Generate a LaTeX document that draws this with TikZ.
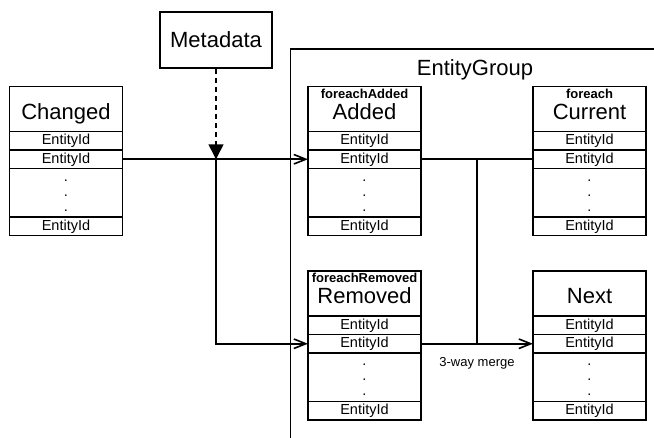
\documentclass[tikz,border=0pt]{standalone}
\usepackage{fontspec}
\setmainfont{Liberation Sans}
\usetikzlibrary{arrows.meta,positioning}
\newcommand{\bigfont}{\fontsize{22}{26}\selectfont}
\newcommand{\idfont}{\fontsize{14.5}{15}\selectfont}
% one entity table: name, position, subtitle, title
\newcommand{\idtable}[4]{%
  \node[hbox] (#1) at (#2) {#4};
  \node[sub] (#1s) at ([yshift=-11.5pt]#1.north) {#3};
  \node[rbox,below=0pt of #1]  (#1a) {EntityId};
  \node[rbox,below=0pt of #1a] (#1b) {EntityId};
  \node[dbox,below=0pt of #1b] (#1c) {.\\.\\.};
  \node[rbox,below=0pt of #1c] (#1d) {EntityId};
}

\begin{document}
\begin{tikzpicture}[x=1pt,y=-1pt,
  tbl/.style={draw,line width=1.6pt,minimum width=113pt,inner sep=0pt,outer sep=0pt},
  hbox/.style={tbl,anchor=north,text height=32.5pt,text depth=12.5pt,font=\bigfont},
  rbox/.style={tbl,minimum height=18.5pt,font=\idfont},
  dbox/.style={tbl,minimum height=48.5pt,align=center,text height=37pt,text depth=0pt,font=\idfont},
  sub/.style={anchor=base,inner sep=0pt,font=\fontsize{13}{15}\selectfont\bfseries},
  mbox/.style={draw,line width=1.6pt,minimum width=112pt,minimum height=56pt,inner sep=0pt,font=\bigfont},
  con/.style={line width=1.6pt},
  feed/.style={-{Straight Barb[length=12pt,width=9.5pt]}},
  lbl/.style={inner sep=0pt,font=\fontsize{13}{15}\selectfont}]
  \path[use as bounding box,fill=white] (0,0) rectangle (654,437);
  % group frame
  \draw[line width=1.1pt] (290.5,445) |- (660,49);
  \node[anchor=base,font=\bigfont] (grp) at (475,75) {EntityGroup};
  \node[mbox] (meta) at (216,40) {Metadata};
  \idtable{chg}{66,86.5}{}{Changed}
  \idtable{add}{364.5,86.5}{foreachAdded}{Added}
  \idtable{cur}{589.5,86.5}{foreach}{Current}
  \idtable{rem}{364.5,271}{foreachRemoved}{Removed}
  \idtable{nxt}{589.5,271}{}{Next}
  % connectors
  \coordinate (split) at (meta.south |- chgb.east);
  \path (addb.east) -- (curb.west) coordinate[pos=.5] (mrg);
  \draw[con,feed] (chgb.east) -- (addb.west);
  \draw[con,dash pattern=on 5pt off 4pt,-{Triangle[length=15pt,width=15pt]}] (meta.south) -- (split);
  \draw[con,feed] (split) |- (remb.west);
  \draw[con] (addb.east) -- (curb.west);
  \draw[con] (mrg) -- (mrg |- remb.east) node[lbl,below=13pt] (mlbl) {3-way merge};
  \draw[con,feed] (remb.east) -- (nxtb.west);
\end{tikzpicture}
\end{document}
